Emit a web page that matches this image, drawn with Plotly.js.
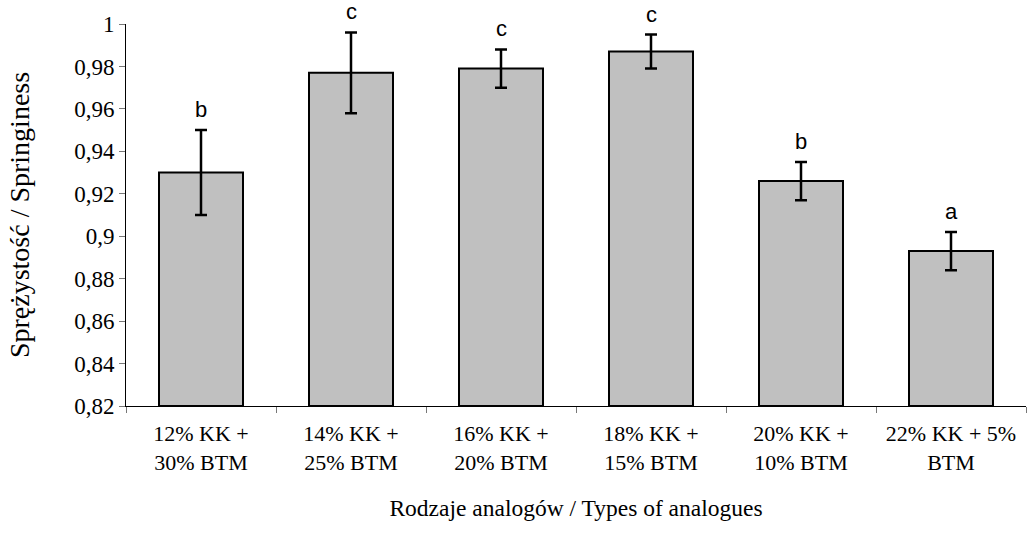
<!DOCTYPE html>
<html>
<head>
<meta charset="utf-8">
<script src="https://cdn.plot.ly/plotly-3.0.1.min.js"></script>
<style>
html,body{margin:0;padding:0;background:#fff;}
#chart{width:1028px;height:548px;}
</style>
</head>
<body>
<div id="chart"></div>
<script>
// Data
const categories = [
  "12% KK +<br>30% BTM",
  "14% KK +<br>25% BTM",
  "16% KK +<br>20% BTM",
  "18% KK +<br>15% BTM",
  "20% KK +<br>10% BTM",
  "22% KK + 5%<br>BTM"
];
const springiness = [0.930, 0.977, 0.979, 0.987, 0.926, 0.893];
const errors = [0.020, 0.019, 0.009, 0.008, 0.009, 0.009];
const groupLetters = ["b", "c", "c", "c", "b", "a"];
const yBase = 0.82;

const serif = "Liberation Serif";
const sans = "Liberation Sans";

const trace = {
  type: "bar",
  x: categories,
  y: springiness.map(v => v - yBase),
  base: yBase,
  marker: { color: "#C0C0C0", line: { color: "#000000", width: 2 } },
  error_y: { type: "data", array: errors, visible: true, color: "#000000", thickness: 2.5, width: 6 },
  hoverinfo: "skip"
};

const annotations = categories.map((c, i) => ({
  x: c,
  y: springiness[i] + errors[i],
  xref: "x", yref: "y",
  text: groupLetters[i],
  showarrow: false,
  yanchor: "bottom",
  yshift: 6,
  font: { family: sans, size: 22, color: "#000" }
}));

const layout = {
  width: 1028,
  height: 548,
  margin: { l: 126, r: 2, t: 24, b: 142 },
  paper_bgcolor: "#ffffff",
  plot_bgcolor: "#ffffff",
  separators: ", ",
  showlegend: false,
  bargap: 0.44,
  xaxis: {
    type: "category",
    showline: true,
    linecolor: "#000",
    linewidth: 1,
    ticks: "outside",
    tickson: "boundaries",
    ticklen: 6,
    tickcolor: "#777",
    ticklabelstandoff: 8,
    tickfont: { family: serif, size: 22, color: "#000" },
    showgrid: false,
    zeroline: false,
    title: { text: "Rodzaje analogów / Types of analogues", font: { family: serif, size: 23.5, color: "#000" }, standoff: 25 }
  },
  yaxis: {
    range: [0.82, 1],
    tick0: 0.82,
    dtick: 0.02,
    showline: true,
    linecolor: "#000",
    linewidth: 1,
    ticks: "outside",
    ticklen: 6,
    tickcolor: "#777",
    tickfont: { family: serif, size: 23, color: "#000" },
    showgrid: false,
    zeroline: false,
    title: { text: "Sprężystość / Springiness", font: { family: serif, size: 28, color: "#000" }, standoff: 36 }
  },
  annotations: annotations
};

Plotly.newPlot("chart", [trace], layout, { displayModeBar: false, staticPlot: true });
</script>
</body>
</html>
